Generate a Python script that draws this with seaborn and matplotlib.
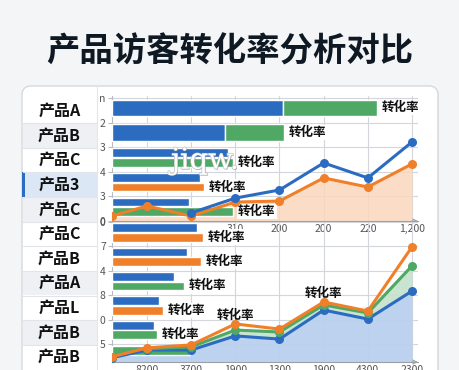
import numpy as np
import matplotlib
matplotlib.use("Agg")
import matplotlib.pyplot as plt
import seaborn as sns
import pandas as pd
from matplotlib.patches import FancyBboxPatch, Rectangle
import matplotlib.patheffects as pe

# ---------------- data ----------------
title = "产品访客转化率分析对比"
row_labels = ["产品A", "产品B", "产品C", "产品3", "产品C", "产品C",
              "产品B", "产品A", "产品L", "产品B", "产品B"]
row_fill = ["w", "g", "w", "hl", "g", "w", "w", "g", "w", "g", "w"]
bar_label = "转化率"
watermark = "jiqw."

# top panel
top_ytick_labels = ["0", "3", "4", "3", "2", "n"]          # at 0..5
top_xtick_pos = [3, 4, 5, 6, 7]
top_xtick_labels = ["310", "200", "200", "220", "1,200"]
top_blue = [171, 113, 116, 88, 77]
top_second = [94, 59, 121, 92, 121]
top_second_color = ["green", "green", "green", "orange", "green"]
top_stacked = [True, True, False, False, False]
top_has_label = [True, True, True, True, True]
top_orange_x = [0.2, 1, 2, 3, 4, 5, 6, 7]
top_orange_y = [0.2, 0.61, 0.2, 0.77, 0.81, 1.75, 1.38, 2.32]
top_blue_x = [2, 3, 4, 5, 6, 7]
top_blue_y = [0.33, 0.93, 1.26, 2.36, 1.75, 3.21]

# bottom panel
bot_ytick_labels = ["5", "0", "8", "4", "7", "0"]          # at 1..6
bot_xtick_pos = [1, 2, 3, 4, 5, 6, 7]
bot_xtick_labels = ["8200", "3700", "1900", "1300", "1900", "4300", "2300"]
bot_blue = [85, 75, 62, 47, 42, 0]
bot_second = [91, 89, 72, 51, 45, 78]
bot_second_color = ["orange", "orange", "green", "orange", "green", "green"]
bot_stacked = [False] * 6
bot_has_label = [True, True, True, True, True, False]
bot_line_x = [0.2, 1, 2, 3, 4, 5, 6, 7]
bot_orange_y = [0.47, 0.84, 0.96, 1.82, 1.61, 2.72, 2.35, 4.98]
bot_blue_y = [0.43, 0.75, 0.75, 1.33, 1.2, 2.39, 2.02, 3.17]
bot_green_x = [1, 2, 3, 4, 5, 6, 7]
bot_green_y = [0.8, 0.88, 1.57, 1.49, 2.6, 2.27, 4.2]
bot_note_x = [3, 5]

# ---------------- style ----------------
sns.set_style("white")
plt.rcParams["font.family"] = ["Noto Sans CJK SC", "DejaVu Sans"]

BLUE = "#2b6cc0"
ORANGE = "#f07f2a"
GREEN = "#4fa864"
COL = {"blue": BLUE, "orange": ORANGE, "green": GREEN}

W, H = 460, 370
fig = plt.figure(figsize=(W / 100, H / 100), dpi=100)
fig.patch.set_facecolor("#f4f5f7")

bg = fig.add_axes([0, 0, 1, 1], zorder=0)
bg.set_xlim(0, W)
bg.set_ylim(H, 0)
bg.axis("off")

bg.add_patch(FancyBboxPatch((23, 87), 416, 330, boxstyle="round,pad=0,rounding_size=9",
                            fc="#e4e6e9", ec="none"))
bg.add_patch(FancyBboxPatch((22, 86), 416, 330, boxstyle="round,pad=0,rounding_size=9",
                            fc="white", ec="#d6d9dd", lw=1.0))

bg.text(230, 52, title, ha="center", va="center", fontsize=24,
        fontweight="heavy", color="#0f1923")

fills = {"w": "#ffffff", "g": "#eef0f3", "hl": "#dce7f5"}
row_top, row_h = 98.3, 24.65
for i, (lab, f) in enumerate(zip(row_labels, row_fill)):
    y0 = row_top + i * row_h
    bg.add_patch(Rectangle((22.6, y0), 74.4, row_h, fc=fills[f], ec="none"))
    if i > 0:
        bg.plot([22.6, 97], [y0, y0], color="#e1e4e8", lw=0.8)
    if f == "hl":
        bg.add_patch(Rectangle((22, y0), 2.6, row_h, fc=BLUE, ec="none"))
    bg.text(59.5, y0 + row_h / 2, lab, ha="center", va="center",
            fontsize=11.5, fontweight="bold", color="#111111")
bg.plot([97, 97], [86, H], color="#e4e6ea", lw=0.8)

XL = (0.208, 7.136)


def panel(rect, ylim, yticks, ytl, xpos, xtl):
    axb = fig.add_axes(rect, zorder=1)
    axb.set_facecolor("none")
    axb.set_xlim(XL)
    axb.set_ylim(ylim)
    axb.set_xticks(range(1, 8))
    lab = ["" for _ in range(1, 8)]
    for p, t in zip(xpos, xtl):
        lab[p - 1] = t
    axb.set_xticklabels(lab)
    axb.set_yticks(yticks)
    axb.set_yticklabels(ytl)
    axb.grid(True, color="#d3d6da", lw=0.8)
    axb.set_axisbelow(True)
    for s in ["top", "right"]:
        axb.spines[s].set_visible(False)
    axb.spines["left"].set_color("#b8bcc2")
    axb.spines["left"].set_linewidth(0.8)
    axb.spines["bottom"].set_color("#9aa0a6")
    axb.spines["bottom"].set_linewidth(0.8)
    axb.tick_params(axis="y", length=3, color="#b8bcc2", labelsize=7.5,
                    labelcolor="#555555", pad=1.5, left=True)
    axb.tick_params(axis="x", length=0, labelsize=7.5, labelcolor="#555555", pad=2)
    axb.annotate("", xy=(XL[1] + 0.06, ylim[0]), xytext=(XL[1] - 0.2, ylim[0]),
                 arrowprops=dict(arrowstyle="->", color="#9aa0a6", lw=0.8,
                                 mutation_scale=7), annotation_clip=False)

    axbar = fig.add_axes(rect, zorder=2)
    axbar.set_facecolor("none")
    axbar.set_xlim(0, 306)
    axbar.set_ylim(ylim)
    axbar.axis("off")

    axl = fig.add_axes(rect, zorder=3)
    axl.set_facecolor("none")
    axl.set_xlim(XL)
    axl.set_ylim(ylim)
    axl.axis("off")
    return axb, axbar, axl


def draw_bars(ax, bases, blue, second, colors, stacked, has_label):
    for b, bv, sv, c, st, hl in zip(bases, blue, second, colors, stacked, has_label):
        if st:
            ax.barh(b + 0.6, bv, height=0.66, color=BLUE)
            ax.barh(b + 0.6, sv, left=bv, height=0.66, color=COL[c])
            end, ly = bv + sv, b + 0.6
        else:
            if bv > 0:
                ax.barh(b + 0.77, bv, height=0.36, color=BLUE)
                ly = b + 0.38
            else:
                ly = b + 0.72
            ax.barh(ly, sv, height=0.36, color=COL[c])
            end = max(bv, sv)
        if hl:
            ax.text(end + 5, ly, bar_label, ha="left", va="center", fontsize=9,
                    fontweight="bold", color="#111111", zorder=5,
                    bbox=dict(fc="white", ec="none", pad=0.8))


def line(ax, x, y, color):
    df = pd.DataFrame({"x": x, "y": y})
    sns.lineplot(data=df, x="x", y="y", ax=ax, color=color, marker="o",
                 markersize=6.5, markeredgewidth=0, linewidth=2.2)


# ---------------- top panel ----------------
rt = [112 / W, (H - 221) / H, 306 / W, 125 / H]
ylt = (0, 5.08)
tb, tbar, tl = panel(rt, ylt, range(0, 6), top_ytick_labels, top_xtick_pos, top_xtick_labels)
tb.fill_between(top_orange_x, top_orange_y, ylt[0], color="#fbd8bd", alpha=0.85, lw=0)
draw_bars(tbar, [4, 3, 2, 1, 0], top_blue, top_second, top_second_color,
          top_stacked, top_has_label)
tbar.text(93, 2.45, watermark, ha="center", va="center", fontsize=21,
          family="DejaVu Serif", color="white", zorder=6,
          path_effects=[pe.withSimplePatchShadow(offset=(0.6, -0.6),
                                                 shadow_rgbFace="#555555", alpha=0.45),
                        pe.Stroke(linewidth=0.9, foreground="#b8bcc2"),
                        pe.Normal()])
line(tl, top_orange_x, top_orange_y, ORANGE)
line(tl, top_blue_x, top_blue_y, BLUE)

# ---------------- bottom panel ----------------
rb = [112 / W, (H - 362) / H, 306 / W, 140 / H]
ylb = (0.26, 6.0)
bb, bbar, bl = panel(rb, ylb, range(1, 7), bot_ytick_labels, bot_xtick_pos, bot_xtick_labels)
bb.fill_between(bot_line_x, bot_blue_y, ylb[0], color="#b9d0ee", alpha=0.95, lw=0)
gb = np.interp(bot_green_x, bot_line_x, bot_blue_y)
bb.fill_between(bot_green_x, bot_green_y, gb, color="#c6e3cf", alpha=0.95, lw=0)
draw_bars(bbar, [5, 4, 3, 2, 1, 0], bot_blue, bot_second, bot_second_color,
          bot_stacked, bot_has_label)
line(bl, bot_line_x, bot_blue_y, BLUE)
line(bl, bot_green_x, bot_green_y, GREEN)
line(bl, bot_line_x, bot_orange_y, ORANGE)
for nx in bot_note_x:
    ny = bot_orange_y[bot_line_x.index(nx)]
    bl.annotate(bar_label, (nx, ny), xytext=(0, 6.5), textcoords="offset points",
                ha="center", va="center", fontsize=9, fontweight="bold",
                color="#111111")

fig.savefig("out.png", dpi=100, facecolor=fig.get_facecolor())
